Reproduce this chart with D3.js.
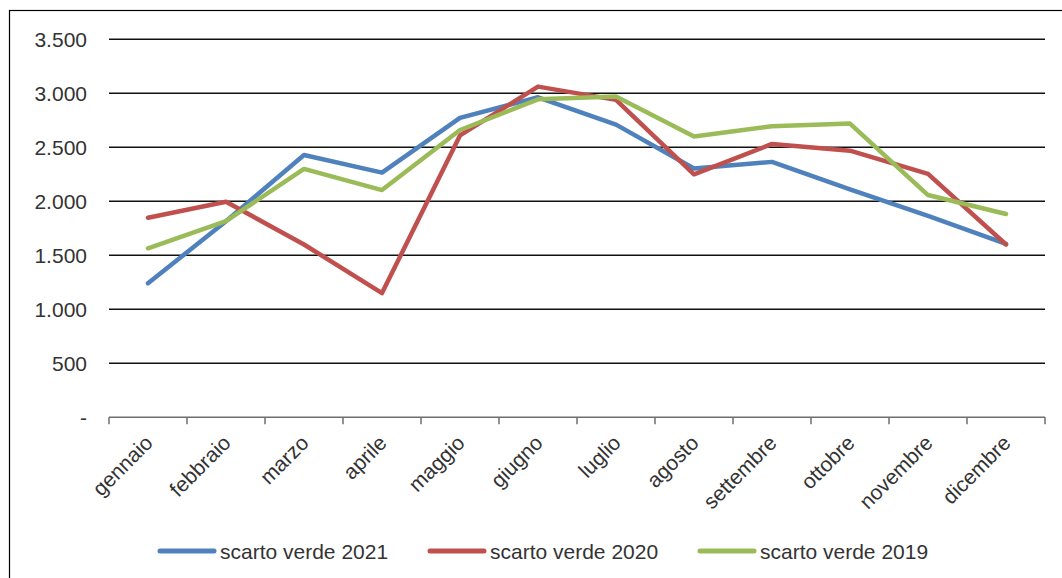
<!DOCTYPE html>
<html>
<head>
<meta charset="utf-8">
<script src="https://cdn.jsdelivr.net/npm/d3@7"></script>
<style>
  body { margin: 0; background: #fff; }
  svg text { font-family: "Liberation Sans", Arial, sans-serif; fill: #333; }
</style>
</head>
<body>
<div id="chart"></div>
<script>
const months = ["gennaio", "febbraio", "marzo", "aprile", "maggio", "giugno",
                "luglio", "agosto", "settembre", "ottobre", "novembre", "dicembre"];
const verde2021 = [1241, 1815, 2429, 2265, 2772, 2963, 2710, 2303, 2365, 2111, 1864, 1605];
const verde2020 = [1848, 1996, 1600, 1150, 2610, 3062, 2939, 2250, 2531, 2469, 2254, 1600];
const verde2019 = [1565, 1817, 2300, 2104, 2660, 2944, 2970, 2600, 2695, 2720, 2058, 1882];
const seriesNames = ["scarto verde 2021", "scarto verde 2020", "scarto verde 2019"];
const seriesColors = ["#4F81BD", "#C0504D", "#9BBB59"];
const yTicks = [0, 500, 1000, 1500, 2000, 2500, 3000, 3500];

const width = 1062;
const height = 578;
const margin = {top: 39.3, right: 17, bottom: 160.7, left: 109};

const svg = d3.select("#chart")
    .append("svg")
    .attr("width", width)
    .attr("height", height);

// Outer frame (runs off the right and bottom edges)
svg.append("rect")
    .attr("x", 9.5)
    .attr("y", 10.5)
    .attr("width", 1200)
    .attr("height", 700)
    .attr("fill", "none")
    .attr("stroke", "#000")
    .attr("stroke-width", 1.2);

const x = d3.scaleBand()
    .domain(months)
    .range([margin.left, width - margin.right]);

const y = d3.scaleLinear()
    .domain([0, 3500])
    .range([height - margin.bottom, margin.top]);

// Gridlines
svg.append("g")
    .selectAll("line")
    .data(yTicks.filter(d => d > 0))
    .enter().append("line")
    .attr("x1", margin.left)
    .attr("x2", width - margin.right)
    .attr("y1", d => y(d))
    .attr("y2", d => y(d))
    .attr("stroke", "#111")
    .attr("stroke-width", 1.4);

// Y axis labels
const fmt = d => d === 0 ? "-" : d3.format(",")(d).replace(/,/g, ".");
svg.append("g")
    .selectAll("text")
    .data(yTicks)
    .enter().append("text")
    .attr("x", 87)
    .attr("y", d => y(d))
    .attr("dy", "0.36em")
    .attr("text-anchor", "end")
    .style("font-size", "21px")
    .text(fmt);

// X axis
const xAxis = svg.append("g")
    .attr("transform", "translate(0," + y(0) + ")");

xAxis.append("line")
    .attr("x1", margin.left)
    .attr("x2", width - margin.right)
    .attr("stroke", "#6e6e6e")
    .attr("stroke-width", 1.5);

xAxis.selectAll(".tick")
    .data(months.concat([null]))
    .enter().append("line")
    .attr("x1", (d, i) => margin.left + i * x.step())
    .attr("x2", (d, i) => margin.left + i * x.step())
    .attr("y1", 0)
    .attr("y2", 7)
    .attr("stroke", "#6e6e6e")
    .attr("stroke-width", 1.5);

xAxis.selectAll(".label")
    .data(months)
    .enter().append("text")
    .attr("transform", d => "translate(" + (x(d) + x.bandwidth() / 2 + 6) + ",27) rotate(-45)")
    .attr("text-anchor", "end")
    .style("font-size", "21px")
    .text(d => d);

// Lines
const allSeries = [verde2021, verde2020, verde2019];
const line = d3.line()
    .x((d, i) => x(months[i]) + x.bandwidth() / 2)
    .y(d => y(d));

svg.append("g")
    .selectAll("path")
    .data(allSeries)
    .enter().append("path")
    .attr("d", line)
    .attr("fill", "none")
    .attr("stroke", (d, i) => seriesColors[i])
    .attr("stroke-width", 4.5)
    .attr("stroke-linejoin", "round")
    .attr("stroke-linecap", "round");

// Legend
const legendX = [160, 430, 700];
const legend = svg.append("g")
    .selectAll("g")
    .data(seriesNames)
    .enter().append("g")
    .attr("transform", (d, i) => "translate(" + legendX[i] + ",551)");

legend.append("line")
    .attr("x1", 0)
    .attr("x2", 54)
    .attr("stroke", (d, i) => seriesColors[i])
    .attr("stroke-width", 5)
    .attr("stroke-linecap", "round");

legend.append("text")
    .attr("x", 60)
    .attr("dy", "0.36em")
    .style("font-size", "21px")
    .text(d => d);
</script>
</body>
</html>
